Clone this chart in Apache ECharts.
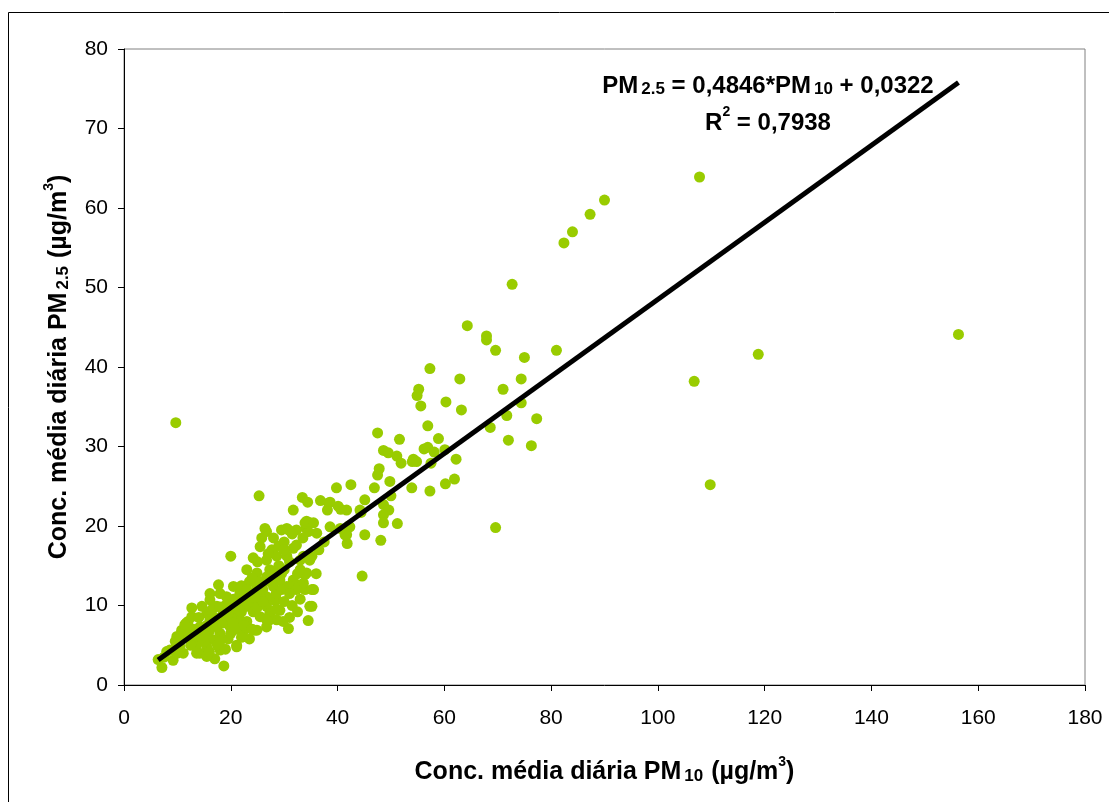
<!DOCTYPE html>
<html>
<head>
<meta charset="utf-8">
<script src="https://cdn.jsdelivr.net/npm/echarts@6/dist/echarts.min.js"></script>
<style>
html,body{margin:0;padding:0;background:#fff;}
#chart{width:1109px;height:802px;}
</style>
</head>
<body>
<div id="chart"></div>
<script>
// PM10 (x) and PM2.5 (y) daily mean concentrations
const pm10 = [
9.7,107.8,156.3,118.8,106.8,109.8,90.0,87.3,84.0,82.4,72.7,64.3,67.9,67.9,69.6,81.0,75.0,57.3,62.9,74.4,
55.2,54.9,71.0,60.3,63.2,55.6,74.4,71.7,77.3,68.6,56.9,58.9,72.0,76.3,56.2,56.9,58.1,60.1,62.2,51.6,
54.2,47.5,48.6,49.5,51.1,51.9,54.0,54.8,57.5,47.8,47.5,49.8,39.8,42.5,46.9,53.9,60.2,61.9,57.3,69.6,
44.6,31.7,33.4,34.4,36.8,38.6,40.1,38.1,41.7,40.6,45.1,48.6,49.6,50.0,44.4,48.6,48.6,51.2,45.1,48.1,
41.7,41.8,42.1,38.6,36.1,34.1,34.8,30.5,32.3,34.5,25.3,20.0,17.7,12.7,14.6,6.4,7.1,9.2,18.7,17.0,
30.8,34.5,35.2,35.5,26.4,26.7,25.8,29.5,30.8,33.9,38.3,44.2,42.3,25.5,27.7,24.2,26.7,28.6,30.5,31.7,
33.0,35.2,23.0,24.9,27.3,29.2,30.5,32.3,33.9,33.9,20.5,21.7,19.2,16.1,17.4,15.5,23.0,24.2,25.5,26.7,
28.0,29.2,28.6,27.3,24.5,22.3,21.1,18.0,16.7,18.0,15.5,14.2,13.6,11.7,10.8,9.9,9.6,10.5,11.1,8.6,
8.0,11.7,12.7,14.2,14.9,19.2,19.9,20.5,21.7,19.9,18.6,21.1,22.3,23.6,24.9,26.1,27.3,16.1,17.4,18.0,
16.1,34.2,35.5,40.5,41.4,32.3,33.6,34.8,33.0,34.2,31.7,31.1,33.6,32.3,35.2,28.0,26.7,26.7,28.6,27.3,
26.7,34.8,12.0,11.4,10.5,9.9,9.2,13.6,15.5,21.1,24.9,26.7,
13.0,14.0,15.0,16.0,17.0,18.5,19.5,20.0,21.0,22.0,23.0,24.0,25.0,25.5,23.5,22.0,20.5,19.0,22.5,23.5,
26.0,28.5,29.5,30.0,29.0,28.0,31.0,30.0,31.5,32.5,31.0,29.8,33.0,27.0,29.0,28.0,30.0,33.5,36.5,36.0,
37.5,24.0,25.0,31.5,12.5,10.0,7.5,17.5,19.0,16.0,13.0,15.5,20.0,22.5,26.0,
14.5,16.5,18.0,19.5,21.5,23.0,24.5,27.5,29.5,31.0,32.5,20.5,18.0,22.0,24.0,25.5,28.5,30.0,12.0,15.0
];
const pm25 = [
33.0,63.9,44.1,41.6,38.2,25.2,61.0,59.2,57.0,55.6,50.4,45.2,43.9,43.4,42.1,42.1,41.2,39.8,38.5,38.5,
37.2,36.4,37.2,35.6,34.6,35.1,35.5,33.9,33.5,32.4,32.6,31.0,30.8,30.1,29.7,29.9,29.3,29.6,28.4,30.9,
28.4,31.7,29.5,29.2,28.8,27.9,28.1,28.1,27.9,27.2,26.4,25.6,24.8,25.2,24.8,24.8,25.3,25.9,24.4,19.8,
13.7,22.0,23.6,23.0,23.2,23.0,22.5,22.0,22.0,22.1,23.3,22.7,22.0,23.8,21.7,21.4,20.4,20.3,18.9,18.2,
18.9,17.8,20.0,19.9,19.1,19.7,20.4,19.7,19.5,19.3,23.8,16.2,12.6,9.7,9.9,3.2,2.2,3.1,2.4,3.3,
7.1,8.1,9.9,12.0,19.7,19.3,18.5,19.5,19.5,20.4,22.9,22.0,19.9,17.4,17.0,16.0,15.7,16.2,16.2,17.2,
15.7,16.2,14.5,14.1,14.5,13.2,12.4,12.6,13.9,12.0,12.4,11.5,11.1,10.7,9.9,9.0,9.9,9.2,8.6,9.9,
10.7,9.4,8.2,8.2,6.9,6.7,5.0,6.5,5.7,4.4,4.8,4.0,5.0,6.1,6.9,6.1,5.5,4.8,4.0,4.4,
4.2,7.8,8.6,7.3,6.5,8.2,7.3,9.0,8.2,9.9,9.0,10.3,10.7,11.5,12.4,12.8,13.6,8.2,7.3,11.5,
11.5,20.6,20.4,19.7,18.9,17.6,16.2,15.7,14.5,14.1,13.2,12.4,12.8,12.0,12.0,12.4,13.6,11.1,10.7,9.0,
7.3,9.9,8.0,7.6,6.1,5.3,4.4,4.0,3.6,4.8,6.9,8.2,
6.0,8.5,5.5,6.8,8.5,7.8,5.8,6.5,7.0,9.2,8.0,10.5,9.8,11.2,13.0,12.5,10.8,10.0,7.5,5.8,
10.5,11.5,12.0,14.5,15.0,14.0,15.5,10.5,10.0,9.2,8.5,8.0,10.8,16.5,17.5,18.5,18.0,18.5,17.0,14.0,
18.0,13.5,15.5,19.0,5.0,4.0,3.5,5.0,4.5,4.2,7.0,7.5,8.5,11.5,12.0,
6.0,9.5,9.8,9.0,9.5,12.0,11.0,13.0,14.0,11.5,14.0,7.8,5.5,6.0,7.0,13.0,9.5,17.0,6.5,6.2
];
// Trend line coefficients, as printed on the chart
const slope = 0.4846;
const intercept = 0.0322;
const xTicks = {min: 0, max: 180, interval: 20};
const yTicks = {min: 0, max: 80, interval: 10};

const points = pm10.map((x, i) => [x, pm25[i]]);
const xMin = Math.min(...pm10), xMax = Math.max(...pm10);
const trend = [[xMin, slope * xMin + intercept], [xMax, slope * xMax + intercept]];

const FONT = 'Liberation Sans, Arial, sans-serif';
const richTitle = {
  a: {fontSize: 25, fontWeight: 'bold', fontFamily: FONT, color: '#000', lineHeight: 30, verticalAlign: 'bottom'},
  s: {fontSize: 17, fontWeight: 'bold', fontFamily: FONT, color: '#000', lineHeight: 30, verticalAlign: 'bottom', padding: [0, 1, 0, 3]},
  p: {fontSize: 14, fontWeight: 'bold', fontFamily: FONT, color: '#000', lineHeight: 30, verticalAlign: 'top'}
};
const chart = echarts.init(document.getElementById('chart'));
chart.setOption({
  animation: false,
  backgroundColor: '#fff',
  grid: {left: 124, top: 49, right: 24, bottom: 117, show: true, borderColor: '#808080', borderWidth: 1},
  xAxis: {
    type: 'value', min: xTicks.min, max: xTicks.max, interval: xTicks.interval,
    axisLine: {show: true, onZero: false, lineStyle: {color: '#000', width: 1}},
    axisTick: {show: true, inside: false, length: 6, lineStyle: {color: '#000'}},
    splitLine: {show: false},
    axisLabel: {color: '#000', fontSize: 21, fontFamily: FONT, margin: 23},
    name: '{a|Conc. média diária PM}{s|10}{a| (µg/m}{p|3}{a|)}',
    nameLocation: 'middle', nameGap: 70,
    nameTextStyle: {rich: richTitle}
  },
  yAxis: {
    type: 'value', min: yTicks.min, max: yTicks.max, interval: yTicks.interval,
    axisLine: {show: true, onZero: false, lineStyle: {color: '#000', width: 1}},
    axisTick: {show: true, inside: false, length: 6, lineStyle: {color: '#000'}},
    splitLine: {show: false},
    axisLabel: {color: '#000', fontSize: 21, fontFamily: FONT, margin: 16},
    name: '{a|Conc. média diária PM}{s|2.5}{a| (µg/m}{p|3}{a|)}',
    nameLocation: 'middle', nameGap: 52, nameRotate: 90,
    nameTextStyle: {rich: richTitle}
  },
  series: [
    {
      type: 'scatter', data: points, symbol: 'circle', symbolSize: 11,
      itemStyle: {color: '#99CC00', opacity: 1}, silent: true, z: 2
    },
    {
      type: 'line', data: trend, symbol: 'none', silent: true, z: 3,
      lineStyle: {color: '#000', width: 5, cap: 'butt'}
    }
  ],
  graphic: [
    {type: 'rect', shape: {x: 8.5, y: 12.5, width: 1300, height: 1000}, style: {fill: null, stroke: '#000', lineWidth: 1}, silent: true, z: -1},
    {
      type: 'text', x: 768, y: 83,
      style: {
        text: '{a|PM}{s|2.5}{a| = 0,4846*PM}{s|10}{a| + 0,0322}',
        align: 'center', verticalAlign: 'middle',
        rich: {
          a: {fontSize: 24, fontWeight: 'bold', fontFamily: FONT, fill: '#000', lineHeight: 30, verticalAlign: 'bottom'},
          s: {fontSize: 17, fontWeight: 'bold', fontFamily: FONT, fill: '#000', lineHeight: 30, verticalAlign: 'bottom', padding: [0, 0, 0, 3]}
        }
      }
    },
    {
      type: 'text', x: 768, y: 120,
      style: {
        text: '{a|R}{p|2}{a| = 0,7938}',
        align: 'center', verticalAlign: 'middle',
        rich: {
          a: {fontSize: 24, fontWeight: 'bold', fontFamily: FONT, fill: '#000', lineHeight: 30, verticalAlign: 'bottom'},
          p: {fontSize: 14, fontWeight: 'bold', fontFamily: FONT, fill: '#000', lineHeight: 30, verticalAlign: 'top'}
        }
      }
    }
  ]
});
</script>
</body>
</html>
